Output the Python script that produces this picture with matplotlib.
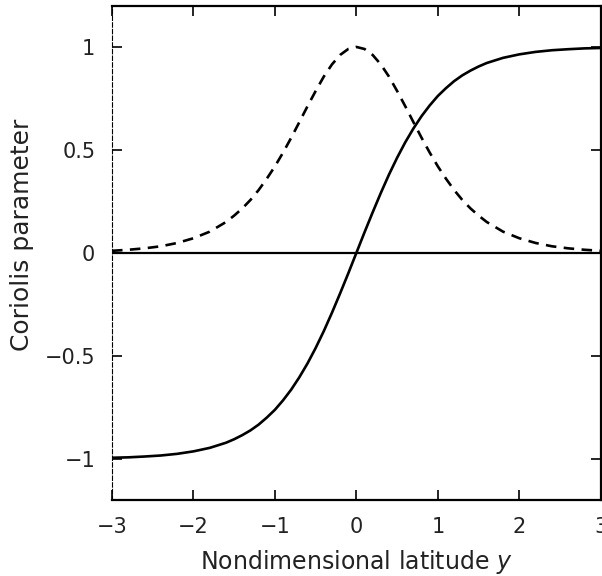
import matplotlib.pyplot as plt

# values
y = [-3.0, -2.8, -2.6, -2.4, -2.2, -2.0, -1.8,
     -1.6, -1.5, -1.4, -1.3, -1.2, -1.1, -1.0, -0.9, -0.8, -0.7, -0.6, -0.5, -0.4, -0.3, -0.2, -0.1,
     0.0, 0.1, 0.2, 0.3, 0.4, 0.5, 0.6, 0.7, 0.8, 0.9, 1.0, 1.1, 1.2, 1.3, 1.4, 1.5, 1.6,
     1.8, 2.0, 2.2, 2.4, 2.6, 2.8, 3.0]
f_solid = [-0.995, -0.993, -0.989, -0.984, -0.976, -0.964, -0.947,
           -0.922, -0.905, -0.885, -0.862, -0.834, -0.800, -0.762, -0.716, -0.664, -0.604, -0.537,
           -0.462, -0.380, -0.291, -0.197, -0.100,
           0.0, 0.100, 0.197, 0.291, 0.380, 0.462, 0.537, 0.604, 0.664, 0.716, 0.762, 0.800,
           0.834, 0.862, 0.885, 0.905, 0.922,
           0.947, 0.964, 0.976, 0.984, 0.989, 0.993, 0.995]
f_dashed = [0.010, 0.015, 0.022, 0.032, 0.048, 0.071, 0.103,
            0.150, 0.181, 0.216, 0.257, 0.305, 0.360, 0.420, 0.487, 0.559, 0.635, 0.712,
            0.786, 0.856, 0.915, 0.961, 0.990,
            1.0, 0.990, 0.961, 0.915, 0.856, 0.786, 0.712, 0.635, 0.559, 0.487, 0.420, 0.360,
            0.305, 0.257, 0.216, 0.181, 0.150,
            0.103, 0.071, 0.048, 0.032, 0.022, 0.015, 0.010]
xticks = [-3, -2, -1, 0, 1, 2, 3]
yticks = [-1, -0.5, 0, 0.5, 1]
ytick_labels = ['\u22121', '\u22120.5', '0', '0.5', '1']

plt.rcParams['font.family'] = ['DejaVu Sans']

fig = plt.figure(figsize=(6.02, 5.76), dpi=100)
ax = fig.add_axes([0.186, 0.132, 0.812, 0.858])

ax.axhline(0, color='k', lw=1.6)
ax.plot(y, f_solid, color='k', lw=1.9)
ax.plot(y, f_dashed, color='k', lw=1.9, dashes=(4, 2.8))

ax.set_xlim(-3, 3)
ax.set_ylim(-1.2, 1.2)
ax.set_xticks(xticks)
ax.set_xticklabels([str(t).replace('-', '\u2212') for t in xticks])
ax.set_yticks(yticks)
ax.set_yticklabels(ytick_labels)
ax.tick_params(direction='in', length=7, width=1.2, labelsize=15,
               top=True, right=True, pad=12, labelcolor='#222222')
for s in ['bottom', 'top', 'right']:
    ax.spines[s].set_linewidth(1.6)
ax.spines['left'].set_linewidth(0.8)
ax.spines['left'].set_linestyle((0, (4, 2)))

ax.set_xlabel('Nondimensional latitude $y$', fontsize=17, color='#222222', labelpad=8)
ax.set_ylabel('Coriolis parameter', fontsize=18, color='#222222')
ax.yaxis.set_label_coords(-0.16, 0.536)

fig.savefig('out.png', dpi=100)
